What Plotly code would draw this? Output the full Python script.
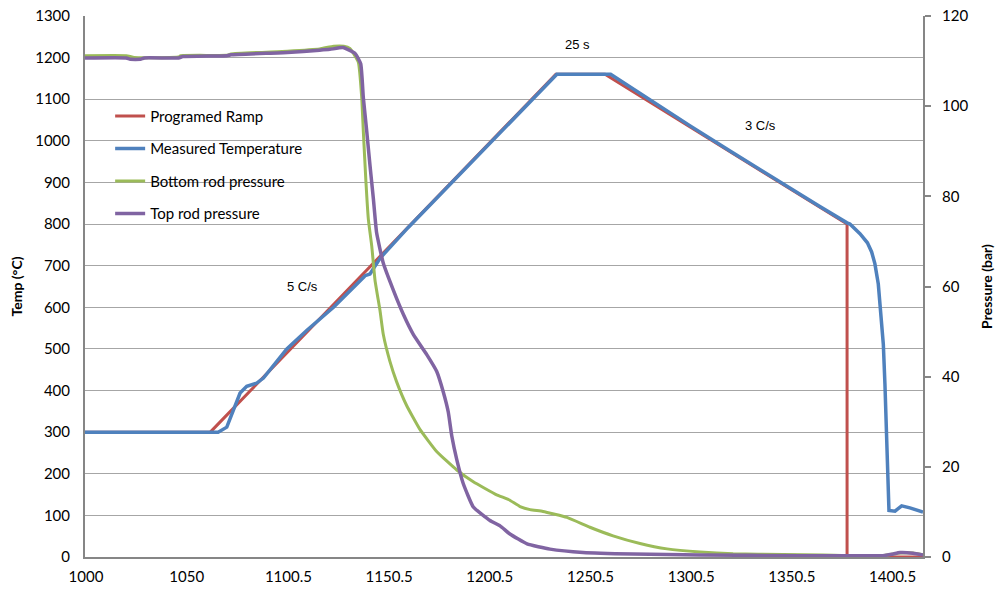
import plotly.graph_objects as go

# Time axis (s)
tick_vals = [1000, 1050, 1100.5, 1150.5, 1200.5, 1250.5, 1300.5, 1350.5, 1400.5]
tick_text = ["1000", "1050", "1100.5", "1150.5", "1200.5", "1250.5", "1300.5", "1350.5", "1400.5"]

# Programmed ramp (°C)
ramp_t = [999.5, 1061.7, 1233.3, 1257.7, 1377.9, 1377.9, 1415.6]
ramp_temp = [300, 300, 1160, 1160, 800, 0, 0]

# Measured temperature (°C)
meas_t = [999.5, 1065.6, 1069.9, 1073.2, 1076.5, 1079.8, 1084.8, 1088.1, 1093.1, 1099.7,
          1109.7, 1122.9, 1134.5, 1138.6, 1141.0, 1143.5, 1146.0, 1160.0, 1180.0, 1200.0,
          1220.0, 1233.8, 1260.5, 1280.0, 1300.0, 1320.0, 1340.0, 1364.4, 1377.9, 1379.3,
          1384.3, 1388.0, 1390.1, 1391.7, 1393.4, 1394.2, 1395.9, 1396.7, 1397.6, 1398.4,
          1398.7, 1401.7, 1405.0, 1409.1, 1415.6]
meas_temp = [300, 300, 312, 353, 394, 410, 418, 430, 459, 500,
             545, 600, 656, 676, 680, 700, 718, 792, 892, 992,
             1092, 1160, 1160, 1098, 1036, 975, 914, 842, 803, 800,
             777, 755, 733, 705, 656, 600, 511, 415, 294, 173,
             112, 110, 123, 118, 108]

# Bottom rod pressure (bar)
bot_t = [999.5, 1020.0, 1024.0, 1046.0, 1047.0, 1070.0, 1072.0, 1100.0, 1116.0, 1123.0,
         1128.0, 1131.0, 1135.2, 1136.9, 1137.7, 1139.0, 1140.2, 1141.9, 1143.5, 1146.0,
         1147.6, 1150.9, 1154.2, 1159.2, 1165.8, 1174.1, 1184.1, 1192.3, 1203.9, 1210.0,
         1215.5, 1220.5, 1226.9, 1238.8, 1250.2, 1261.7, 1275.1, 1288.5, 1304.9, 1321.3,
         1346.1, 1366.0, 1395.7, 1404.2, 1410.6, 1415.6]
bot_p = [111.2, 111.2, 110.8, 110.9, 111.2, 111.3, 111.6, 112.2, 112.7, 113.3,
         113.3, 112.8, 109.8, 101.9, 94.4, 83.2, 74.9, 68.9, 61.4, 54.6,
         49.4, 43.4, 38.9, 33.6, 28.3, 23.4, 19.3, 16.7, 13.8, 12.7,
         11.2, 10.5, 10.1, 8.8, 6.6, 4.7, 3.0, 1.8, 1.1, 0.7,
         0.55, 0.45, 0.3, 0.9, 0.9, 0.5]

# Top rod pressure (bar)
top_t = [999.5, 1020.0, 1022.0, 1027.0, 1029.0, 1046.0, 1048.0, 1070.0, 1072.0, 1100.0,
         1116.0, 1121.1, 1127.6, 1133.6, 1136.4, 1137.7, 1139.4, 1141.0, 1142.7, 1144.3,
         1147.6, 1152.6, 1157.5, 1162.5, 1169.2, 1174.1, 1177.4, 1179.9, 1181.6, 1184.1,
         1187.3, 1192.3, 1200.6, 1205.6, 1210.5, 1219.0, 1230.4, 1246.8, 1271.6, 1304.9,
         1354.5, 1395.7, 1400.0, 1404.2, 1410.6, 1415.6]
top_p = [110.7, 110.7, 110.4, 110.4, 110.7, 110.7, 111.0, 111.2, 111.4, 111.9,
         112.4, 112.6, 113.0, 111.7, 109.4, 101.9, 94.4, 86.9, 79.4, 71.9,
         65.2, 59.2, 53.9, 49.4, 44.9, 41.2, 36.6, 32.1, 26.9, 21.6,
         16.3, 11.1, 8.1, 6.9, 5.1, 2.9, 1.75, 1.0, 0.65, 0.45,
         0.3, 0.3, 0.6, 1.0, 0.85, 0.45]

RED = "#C0504D"
BLUE = "#4F81BD"
GREEN = "#9BBB59"
PURPLE = "#8064A2"
GRID = "#A6A6A6"
AXIS = "#868686"
FONT = "Lato"

fig = go.Figure()
fig.add_trace(go.Scatter(x=ramp_t, y=ramp_temp, name="Programed Ramp", mode="lines",
                         line=dict(color=RED, width=3), legendgroup="a"))
fig.add_trace(go.Scatter(x=meas_t, y=meas_temp, name="Measured Temperature", mode="lines",
                         line=dict(color=BLUE, width=3.5), legendgroup="b"))
fig.add_trace(go.Scatter(x=bot_t, y=bot_p, name="Bottom rod pressure", mode="lines",
                         line=dict(color=GREEN, width=3, shape="spline", smoothing=0.4),
                         yaxis="y2", legendgroup="c"))
fig.add_trace(go.Scatter(x=top_t, y=top_p, name="Top rod pressure", mode="lines",
                         line=dict(color=PURPLE, width=3.5, shape="spline", smoothing=0.4),
                         yaxis="y2", legendgroup="d"))

notes = [("25 s", 1244, 1231), ("5 C/s", 1107.7, 649), ("3 C/s", 1334.7, 1037)]
for txt, xv, yv in notes:
    fig.add_annotation(x=xv, y=yv, xref="x", yref="y", text=txt, showarrow=False,
                       font=dict(family="Liberation Sans", size=13, color="#000"))

fig.update_layout(
    width=995, height=593,
    margin=dict(l=85, r=72, t=16, b=36),
    paper_bgcolor="white", plot_bgcolor="white",
    font=dict(family=FONT, size=15, color="#000"),
    showlegend=True,
    legend=dict(x=0.03, y=0.845, xanchor="left", yanchor="top",
                bgcolor="rgba(0,0,0,0)", font=dict(family=FONT, size=15),
                traceorder="grouped", tracegroupgap=10),
    xaxis=dict(range=[999.5, 1415.6], tickvals=tick_vals, ticktext=tick_text,
               showgrid=False, zeroline=False, showline=True, linecolor=AXIS,
               linewidth=2, ticks="", ticklabelstandoff=5, automargin=False),
    yaxis=dict(range=[0, 1300], dtick=100, showgrid=True, gridcolor=GRID, gridwidth=1.3,
               zeroline=False, showline=True, linecolor=AXIS, linewidth=2, ticks="",
               ticklabelstandoff=10, automargin=False,
               title=dict(text="<b>Temp (°C)</b>", font=dict(size=14), standoff=9)),
    yaxis2=dict(range=[0, 120], dtick=20, overlaying="y", side="right", showgrid=False,
                zeroline=False, showline=True, linecolor=AXIS, linewidth=2,
                ticks="outside", ticklen=6, tickcolor=AXIS, tickwidth=1.5,
                ticklabelstandoff=8, automargin=False,
                title=dict(text="<b>Pressure (bar)</b>", font=dict(size=14), standoff=17)),
)

fig.write_html("out.html")
